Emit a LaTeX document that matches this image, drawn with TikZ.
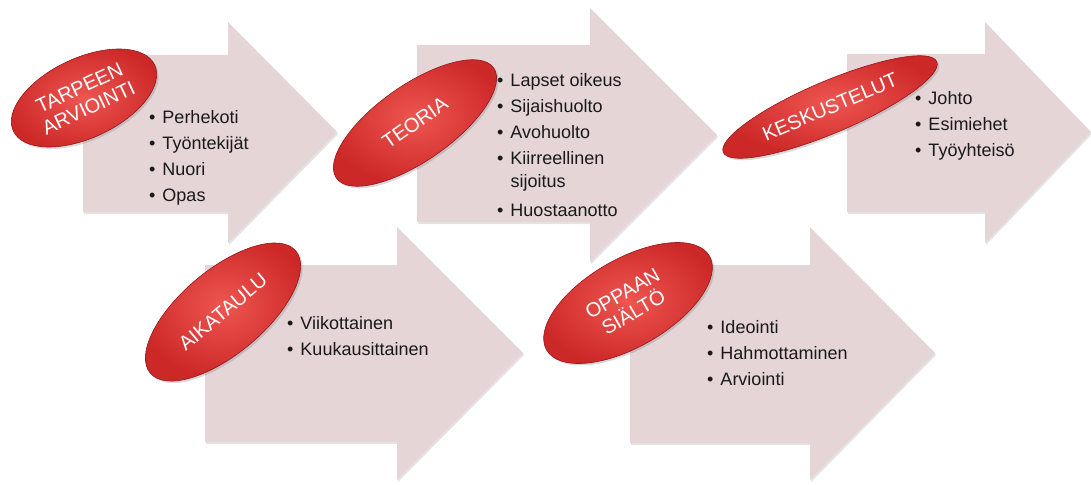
\documentclass[tikz,border=0pt]{standalone}
\usepackage{fontspec}
\setmainfont{Liberation Sans}
\usetikzlibrary{shapes.geometric,shadows}
\definecolor{arrowfill}{RGB}{229,213,215}
\definecolor{ovalin}{RGB}{238,86,80}
\definecolor{ovalout}{RGB}{204,40,40}
\definecolor{ovalrim}{RGB}{150,22,26}

\begin{document}
\begin{tikzpicture}[x=1pt,y=-1pt,
	big_arrow/.style={fill=arrowfill,drop shadow={opacity=0.22,shadow xshift=1pt,shadow yshift=-2pt}},
	oval_node/.style={ellipse,draw=ovalrim,line width=0.6pt,inner color=ovalin,outer color=ovalout,text=white,inner sep=0pt,align=center,font=\fontsize{20}{22}\selectfont,drop shadow={opacity=0.3,shadow xshift=2pt,shadow yshift=-2pt}},
	list_node/.style={anchor=north west,inner sep=0pt,font=\fontsize{18}{26}\selectfont,text=black!90}]

	\useasboundingbox (0,0) rectangle (1091,484);

	\fill[big_arrow] (83,55) -- (228,55) -- (228,22) -- (337,132) -- (228,243) -- (228,212) -- (83,212) -- cycle;
	\fill[big_arrow] (417,45) -- (590,45) -- (590,8) -- (717,135) -- (590,262) -- (590,222) -- (417,222) -- cycle;
	\fill[big_arrow] (847,54) -- (985,54) -- (985,22) -- (1091,132) -- (985,243) -- (985,212) -- (847,212) -- cycle;
	\fill[big_arrow] (205,265) -- (397,265) -- (397,227) -- (523,353) -- (397,480) -- (397,442) -- (205,442) -- cycle;
	\fill[big_arrow] (630,265) -- (810,265) -- (810,227) -- (935,353) -- (810,480) -- (810,443) -- (630,443) -- cycle;

	\node[list_node] (6) at (149,105) {\begin{tabular}{@{}l@{\hspace{7pt}}l@{}}•&Perhekoti\\•&Työntekijät\\•&Nuori\\•&Opas\end{tabular}};
	\node[list_node] (7) at (497,68) {\begin{tabular}{@{}l@{\hspace{7pt}}l@{}}•&Lapset oikeus\\•&Sijaishuolto\\•&Avohuolto\\•&Kiirreellinen\\[-3pt]&sijoitus\\[3pt]•&Huostaanotto\end{tabular}};
	\node[list_node] (8) at (915,86) {\begin{tabular}{@{}l@{\hspace{7pt}}l@{}}•&Johto\\•&Esimiehet\\•&Työyhteisö\end{tabular}};
	\node[list_node] (9) at (287,311) {\begin{tabular}{@{}l@{\hspace{7pt}}l@{}}•&Viikottainen\\•&Kuukausittainen\end{tabular}};
	\node[list_node] (10) at (707,315) {\begin{tabular}{@{}l@{\hspace{7pt}}l@{}}•&Ideointi\\•&Hahmottaminen\\•&Arviointi\end{tabular}};

	\node[oval_node,minimum width=156pt,minimum height=80pt,rotate=25] (1) at (84,98) {TARPEEN\\ARVIOINTI};
	\node[oval_node,minimum width=192pt,minimum height=76pt,rotate=35] (2) at (415,123) {TEORIA};
	\node[oval_node,minimum width=232pt,minimum height=52pt,rotate=23] (3) at (830,107) {KESKUSTELUT};
	\node[oval_node,minimum width=190pt,minimum height=84pt,rotate=40] (4) at (223,312) {AIKATAULU};
	\node[oval_node,minimum width=188pt,minimum height=88pt,rotate=30] (5) at (628,303) {OPPAAN\\SIÄLTÖ};
\end{tikzpicture}
\end{document}
